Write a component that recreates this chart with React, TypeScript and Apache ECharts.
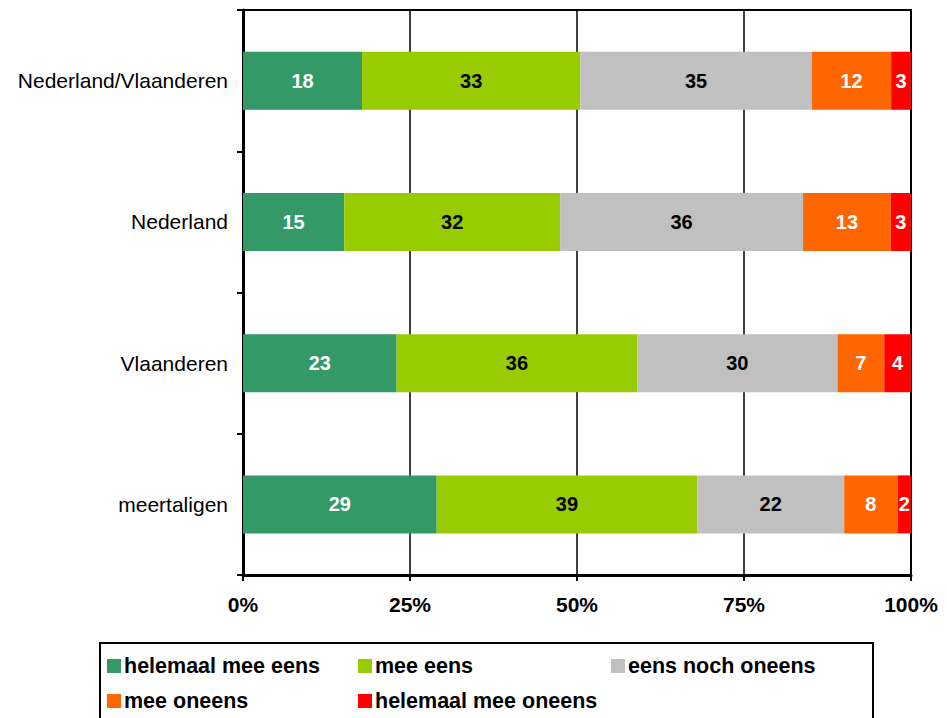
import React, { useEffect, useRef } from "react";
import * as echarts from "echarts";

const categories = ["Nederland/Vlaanderen", "Nederland", "Vlaanderen", "meertaligen"];
const seriesNames = ["helemaal mee eens", "mee eens", "eens noch oneens", "mee oneens", "helemaal mee oneens"];
const helemaalMeeEens = [18, 15, 23, 29];
const meeEens = [33, 32, 36, 39];
const eensNochOneens = [35, 36, 30, 22];
const meeOneens = [12, 13, 7, 8];
const helemaalMeeOneens = [3, 3, 4, 2];
const tickValues = [0, 25, 50, 75, 100];

const colors = ["#339966", "#99CC00", "#C0C0C0", "#FF6600", "#FF0000"];
const labelColors = ["#ffffff", "#000000", "#000000", "#ffffff", "#ffffff"];
const FONT = "'Liberation Sans', Arial, sans-serif";

export default function App() {
  const ref = useRef<HTMLDivElement>(null);
  useEffect(() => {
    if (!ref.current) return;
    const chart = echarts.init(ref.current, null, { renderer: "svg" });
    const raw = [helemaalMeeEens, meeEens, eensNochOneens, meeOneens, helemaalMeeOneens];
    const totals = categories.map((_, i) => raw.reduce((s, arr) => s + arr[i], 0));
    const series = raw.map((arr, k) => ({
      name: seriesNames[k],
      type: "bar",
      stack: "total",
      barWidth: 58,
      itemStyle: { color: colors[k] },
      label: {
        show: true,
        position: "inside",
        color: labelColors[k],
        fontFamily: FONT,
        fontWeight: "bold",
        fontSize: 20,
        formatter: (p: any) => String(arr[p.dataIndex]),
      },
      data: arr.map((v, i) => (v / totals[i]) * 100),
    }));
    const legendPos = [
      { left: 107, top: 655 },
      { left: 358, top: 655 },
      { left: 611, top: 655 },
      { left: 107, top: 690 },
      { left: 358, top: 690 },
    ];
    const legends = seriesNames.map((n, k) => ({
      data: [n],
      left: legendPos[k].left,
      top: legendPos[k].top,
      padding: 0,
      itemWidth: 14,
      itemHeight: 14,
      itemGap: 0,
      icon: "rect",
      selectedMode: false,
      textStyle: { fontFamily: FONT, fontWeight: "bold", fontSize: 21.5, color: "#000", padding: [0, 0, 0, -2] },
    }));
    chart.setOption({
      animation: false,
      grid: {
        left: 243,
        right: 36,
        top: 10,
        bottom: 143,
        show: true,
        borderColor: "#000",
        borderWidth: 2,
        backgroundColor: "transparent",
      },
      legend: legends,
      xAxis: {
        type: "value",
        min: 0,
        max: 100,
        interval: 25,
        axisLine: { show: true, lineStyle: { color: "#000", width: 3 } },
        axisTick: { show: true, length: 6, lineStyle: { color: "#000", width: 2 } },
        splitLine: { show: true, lineStyle: { color: "#000", width: 1.5 } },
        axisLabel: {
          margin: 19,
          color: "#000",
          fontFamily: FONT,
          fontWeight: "bold",
          fontSize: 21,
          formatter: (v: number) => (tickValues.includes(v) ? v + "%" : ""),
        },
      },
      yAxis: {
        type: "category",
        inverse: true,
        data: categories,
        axisLine: { show: true, lineStyle: { color: "#000", width: 3 } },
        axisTick: { show: true, length: 6, lineStyle: { color: "#000", width: 2 } },
        axisLabel: { margin: 15, color: "#000", fontFamily: FONT, fontSize: 21 },
      },
      graphic: [
        {
          type: "rect",
          shape: { x: 100, y: 643, width: 773, height: 90 },
          style: { fill: "none", stroke: "#000", lineWidth: 2 },
          z: -1,
        },
      ],
      series,
    });
    return () => chart.dispose();
  }, []);
  return (
    <div
      ref={ref}
      style={{ position: "fixed", left: 0, top: 0, width: 947, height: 718, background: "#fff" }}
    />
  );
}
